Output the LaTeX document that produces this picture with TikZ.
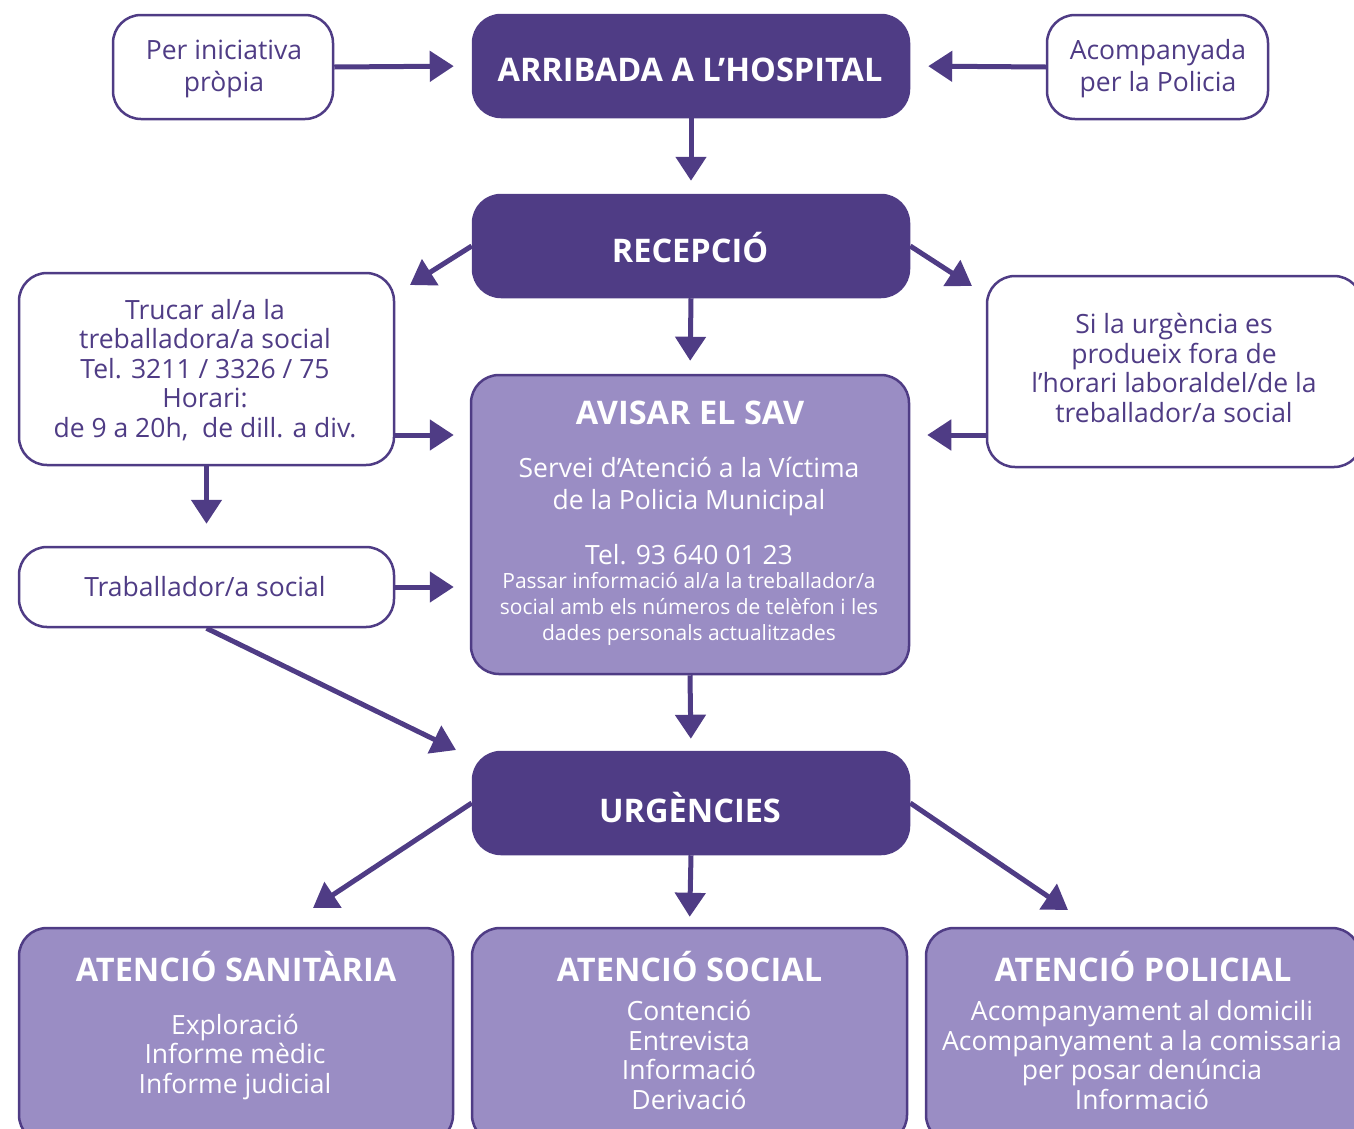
\documentclass[tikz,border=0pt]{standalone}
\usepackage{fontspec}
\setmainfont{Open Sans}
\usetikzlibrary{arrows.meta}
\definecolor{dk}{RGB}{79,60,133}
\definecolor{lt}{RGB}{154,141,196}
\begin{document}
\begin{tikzpicture}[x=1pt,y=-1pt,
  box/.style={draw=dk,line width=2.5pt,rounded corners=28pt,inner sep=0pt,align=center},
  wbox/.style={box,fill=white},
  dbox/.style={box,fill=dk},
  lbox/.style={box,fill=lt},
  ttl/.style={inner sep=0pt,text=white,font=\bfseries\fontsize{32.5}{38}\selectfont},
  body/.style={inner sep=0pt,align=center,text=white,font=\fontsize{26.5}{29.5}\selectfont},
  dtxt/.style={body,text=dk},
  small/.style={inner sep=0pt,align=center,text=white,font=\fontsize{21}{26}\selectfont},
  arr/.style={draw=dk,line width=5pt,-{Triangle[width=30pt,length=24pt]}}
]
\useasboundingbox (0,0) rectangle (1354,1128);
\clip (0,0) rectangle (1354,1128);

% boxes
\node[wbox,minimum width=220pt,minimum height=104pt] (per) at (223,67) {};
\node[dbox,minimum width=436pt,minimum height=102pt] (arr) at (691,66) {};
\node[wbox,minimum width=221pt,minimum height=104pt] (aco) at (1157.5,67) {};
\node[dbox,minimum width=436pt,minimum height=102pt] (rec) at (691,246) {};
\node[wbox,minimum width=375pt,minimum height=192pt] (tru) at (206.5,369) {};
\node[lbox,minimum width=438pt,minimum height=299pt] (sav) at (690,524.5) {};
\node[wbox,minimum width=375pt,minimum height=191pt] (sil) at (1174.5,371.5) {};
\node[wbox,minimum width=375pt,minimum height=80pt] (tra) at (206.5,587) {};
\node[dbox,minimum width=436pt,minimum height=102pt] (urg) at (691,803) {};
\node[lbox,minimum width=434pt,minimum height=215pt] (san) at (236,1035.5) {};
\node[lbox,minimum width=435pt,minimum height=215pt] (soc) at (689.5,1035.5) {};
\node[lbox,minimum width=434pt,minimum height=215pt] (pol) at (1143,1035.5) {};

% texts in white boxes
\node[dtxt,font=\fontsize{26.5}{32}\selectfont] (pert) at (224,69) {Per iniciativa\\pròpia};
\node[dtxt,font=\fontsize{26.5}{32}\selectfont] (acot) at (1158,69) {Acompanyada\\per la Policia};
\node[dtxt] (trut) at (205,370) {Trucar al/a la\\treballadora/a social\\Tel. 3211 / 3326 / 75\\Horari:\\de 9 a 20h,\ \ de dill. a div.};
\node[dtxt] (silt) at (1174,368) {Si la urgència es\\produeix fora de\\l’horari laboraldel/de la\\treballador/a social};
\node[dtxt] (trat) at (205,587) {Traballador/a social};

% titles in dark boxes
\node[ttl] (arrt) at (690,70) {ARRIBADA A L’HOSPITAL};
\node[ttl] (rect) at (690,248) {RECEPCIÓ};
\node[ttl] (urgt) at (690,808) {URGÈNCIES};

% texts in SAV
\node[ttl] (savt) at (690,413) {AVISAR EL SAV};
\node[body,font=\fontsize{26.5}{32}\selectfont] (savb) at (689,487) {Servei d’Atenció a la Víctima\\de la Policia Municipal};
\node[body] (savtel) at (689,555) {Tel. 93 640 01 23};
\node[small] (savs) at (689,609) {Passar informació al/a la treballador/a\\social amb els números de telèfon i les\\dades personals actualitzades};

% bottom texts
\node[ttl] (sant) at (236,967) {ATENCIÓ SANITÀRIA};
\node[body] (sanb) at (235,1057) {Exploració\\Informe mèdic\\Informe judicial};
\node[ttl] (soct) at (689.5,967) {ATENCIÓ SOCIAL};
\node[body] (socb) at (689,1055) {Contenció\\Entrevista\\Informació\\Derivació};
\node[ttl] (polt) at (1143,967) {ATENCIÓ POLICIAL};
\node[body] (polb) at (1142,1055) {Acompanyament al domicili\\Acompanyament a la comissaria\\per posar denúncia\\Informació};

% free arrow ends
\coordinate (t1) at (410,285);
\coordinate (t2) at (972,286);
\coordinate (t3) at (456,750);
\coordinate (t4) at (313,908);
\coordinate (t5) at (1068,910);

% connectors
\draw[arr,shorten >=18pt] (per.east) -- (arr.west);
\draw[arr,shorten >=18pt] (aco.west) -- (arr.east);
\draw[arr,shorten >=13pt] (arr.south) -- (rec.north);
\draw[arr] (rec.west) -- (t1);
\draw[arr] (rec.east) -- (t2);
\draw[arr,shorten >=13pt] (rec.south) -- (sav.north);
\draw[arr,shorten >=16pt] (tru.east |- 0,435) -- (sav.west |- 0,435);
\draw[arr,shorten >=17pt] (sil.west |- 0,435) -- (sav.east |- 0,435);
\draw[arr,shorten >=22pt] (tru.south) -- (tra.north);
\draw[arr,shorten >=16pt] (tra.east) -- (sav.west |- tra.east);
\draw[arr] (tra.south) -- (t3);
\draw[arr,shorten >=12pt] (sav.south) -- (urg.north);
\draw[arr] (urg.west) -- (t4);
\draw[arr,shorten >=10pt] (urg.south) -- (soc.north);
\draw[arr] (urg.east) -- (t5);
\end{tikzpicture}
\end{document}
